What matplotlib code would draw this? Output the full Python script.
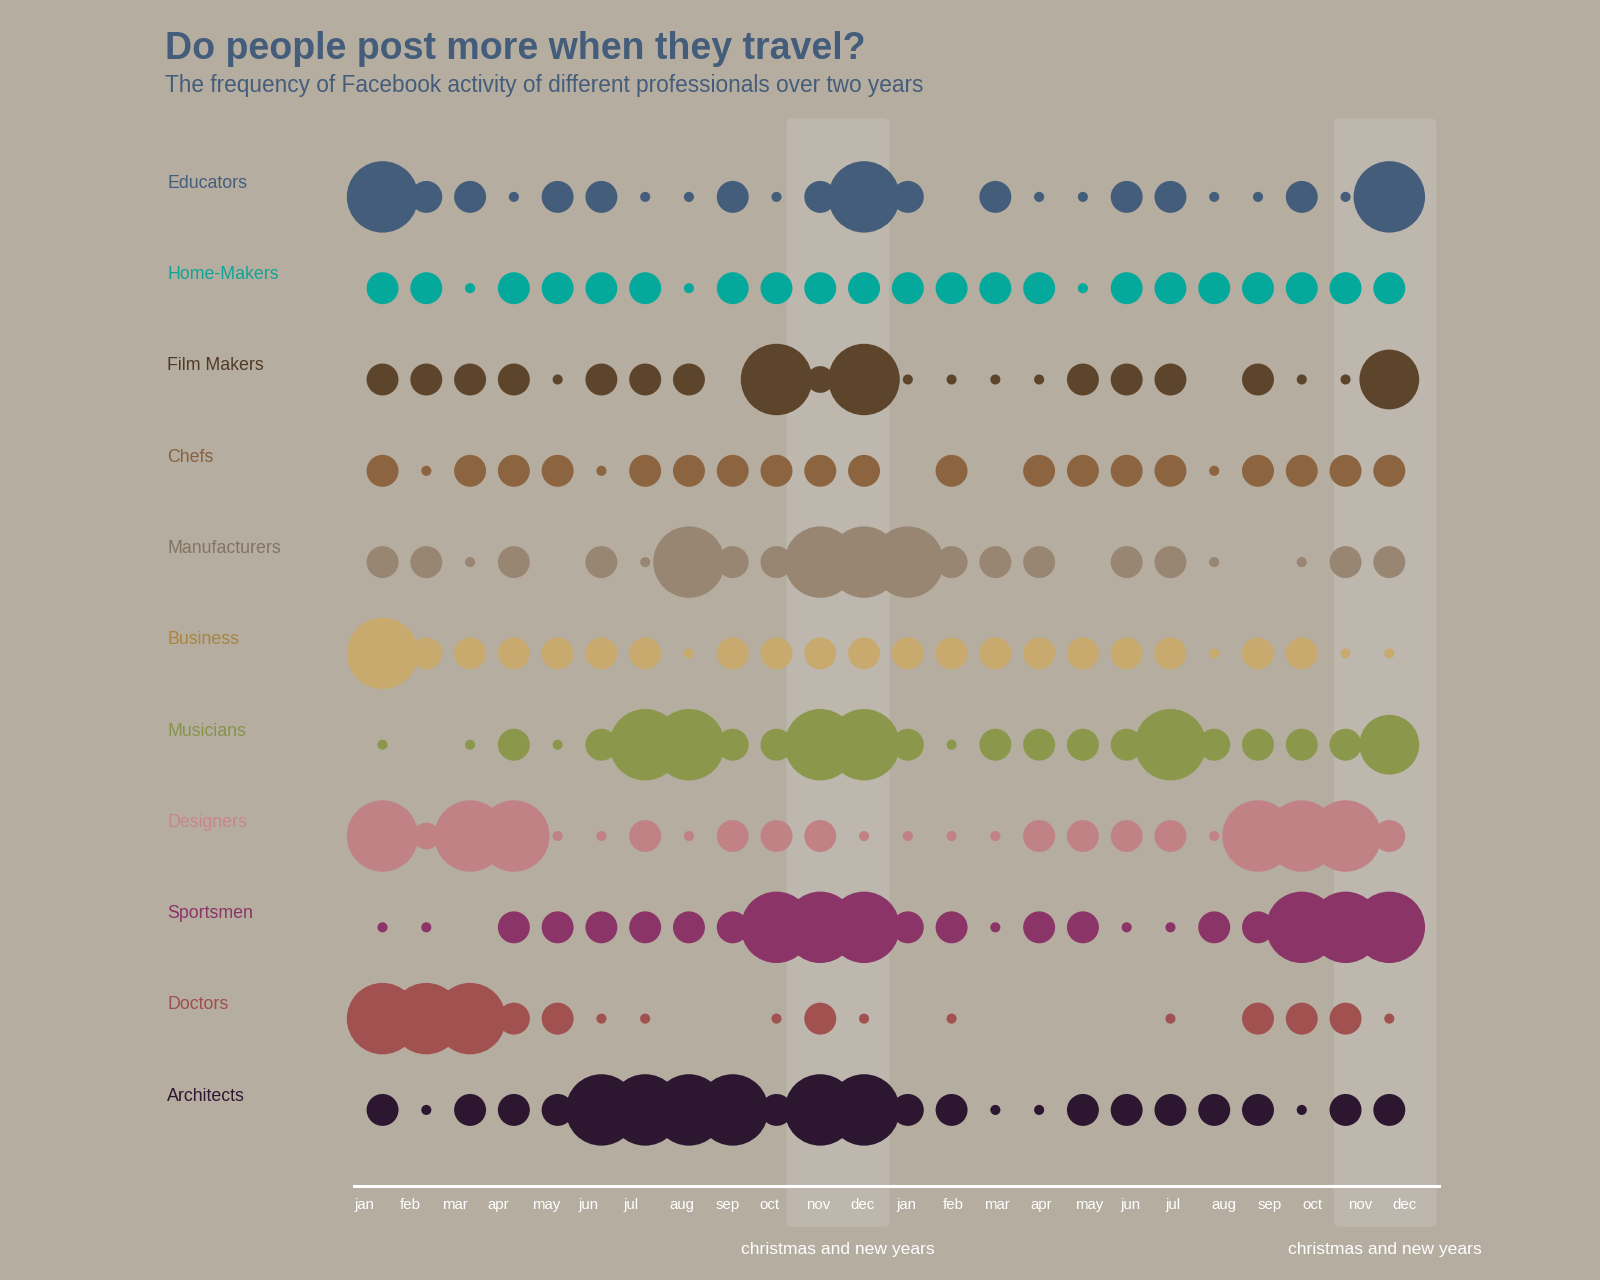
import numpy as np
import pandas as pd
import matplotlib
matplotlib.use("Agg")
import matplotlib.pyplot as plt
from matplotlib.patches import FancyBboxPatch
from matplotlib.transforms import blended_transform_factory

plt.rcParams['font.family'] = ['Liberation Sans', 'DejaVu Sans']

# --- data: activity per month over two years (24 months) ---
professions = ['Educators', 'Home-Makers', 'Film Makers', 'Chefs', 'Manufacturers',
               'Business', 'Musicians', 'Designers', 'Sportsmen', 'Doctors', 'Architects']

educators     = [100, 20, 20, 2, 20, 20, 2, 2, 20, 2, 20, 100, 20, 0, 20, 2, 2, 20, 20, 2, 2, 20, 2, 100]
home_makers   = [20, 20, 2, 20, 20, 20, 20, 2, 20, 20, 20, 20, 20, 20, 20, 20, 2, 20, 20, 20, 20, 20, 20, 20]
film_makers   = [20, 20, 20, 20, 2, 20, 20, 20, 0, 100, 14, 100, 2, 2, 2, 2, 20, 20, 20, 0, 20, 2, 2, 70]
chefs         = [20, 2, 20, 20, 20, 2, 20, 20, 20, 20, 20, 20, 0, 20, 0, 20, 20, 20, 20, 2, 20, 20, 20, 20]
manufacturers = [20, 20, 2, 20, 0, 20, 2, 100, 20, 20, 100, 100, 100, 20, 20, 20, 0, 20, 20, 2, 0, 2, 20, 20]
business      = [100, 20, 20, 20, 20, 20, 20, 2, 20, 20, 20, 20, 20, 20, 20, 20, 20, 20, 20, 2, 20, 20, 2, 2]
musicians     = [2, 0, 2, 20, 2, 20, 100, 100, 20, 20, 100, 100, 20, 2, 20, 20, 20, 20, 100, 20, 20, 20, 20, 70]
designers     = [100, 14, 100, 100, 2, 2, 20, 2, 20, 20, 20, 2, 2, 2, 2, 20, 20, 20, 20, 2, 100, 100, 100, 20]
sportsmen     = [2, 2, 0, 20, 20, 20, 20, 20, 20, 100, 100, 100, 20, 20, 2, 20, 20, 2, 2, 20, 20, 100, 100, 100]
doctors       = [100, 100, 100, 20, 20, 2, 2, 0, 0, 2, 20, 2, 0, 2, 0, 0, 0, 0, 2, 0, 20, 20, 20, 2]
architects    = [20, 2, 20, 20, 20, 100, 100, 100, 100, 20, 100, 100, 20, 20, 2, 2, 20, 20, 20, 20, 20, 2, 20, 20]

activity = [educators, home_makers, film_makers, chefs, manufacturers, business,
            musicians, designers, sportsmen, doctors, architects]

colors = ['#445d7b', '#05a99c', '#5d452c', '#8c6440', '#988673', '#c8aa6e',
          '#8b984b', '#c08285', '#8b3467', '#a05150', '#2d1730']
label_colors = ['#445d7b', '#0fa596', '#4f3b27', '#86603f', '#827464', '#a8853f',
                '#86944a', '#c8868b', '#8b3467', '#a04d50', '#2d1730']

month_names = ['jan', 'feb', 'mar', 'apr', 'may', 'jun',
               'jul', 'aug', 'sep', 'oct', 'nov', 'dec']
holiday_spans = [(9.23, 11.58), (21.73, 24.08)]
holiday_label = 'christmas and new years'

W, H = 1600, 1280
S = 1600 / 1568  # layout measured on a 1568-wide preview


def fx(px):
    return px * S / W


def fy(px):
    return 1 - px * S / H


# --- figure ---
bg = '#b5ada0'
fig = plt.figure(figsize=(16, 12.8), dpi=100, facecolor=bg)
ax = fig.add_axes([fx(347), fy(1162), fx(1410) - fx(347), fy(116) - fy(1162)])
ax.set_facecolor(bg)
ax.set_xlim(-0.65, 24.13)
ax.set_ylim(10.83, -0.86)

# holiday bands
for x0, x1 in holiday_spans:
    band = FancyBboxPatch((x0, -0.86), x1 - x0, 11.28 + 0.86,
                          boxstyle='round,pad=0,rounding_size=0.14',
                          mutation_aspect=0.48, facecolor='#bdb7ad',
                          edgecolor='none', clip_on=False, zorder=0)
    ax.add_patch(band)
    ax.text((x0 + x1) / 2, 11.53, holiday_label, color='white', fontsize=12.6,
            ha='center', va='center', clip_on=False)

# bubbles
months_idx = np.arange(24)
for row, (vals, col) in enumerate(zip(activity, colors)):
    vals = np.array(vals, dtype=float)
    mask = vals > 0
    radius_px = 3.5 * S * np.sqrt(vals[mask])
    sizes = (1.44 * radius_px) ** 2
    ax.scatter(months_idx[mask], np.full(mask.sum(), row), s=sizes, c=col,
               linewidths=0, zorder=2, clip_on=False)

# row labels
trans = blended_transform_factory(fig.transFigure, ax.transData)
for row, (name, lc) in enumerate(zip(professions, label_colors)):
    ax.text(fx(164), row - 0.15, name, transform=trans, color=lc,
            fontsize=12.8, ha='left', va='center')

# month axis (time scale, labels at month starts)
starts = pd.date_range('2013-01-01', periods=24, freq='MS')
days = (starts - starts[0]).days.values
tick_pos = -0.65 + days / 730 * 24.78
ax.set_xticks(tick_pos)
ax.set_xticklabels(month_names * 2, ha='left', color='white', fontsize=10.8)
ax.tick_params(axis='x', length=0, pad=9)
ax.set_yticks([])
for side in ['top', 'left', 'right']:
    ax.spines[side].set_visible(False)
ax.spines['bottom'].set_color('white')
ax.spines['bottom'].set_linewidth(2.2)
ax.spines['bottom'].set_zorder(3)

# titles
fig.text(fx(162), fy(48), 'Do people post more when they travel?',
         color='#445d7b', fontsize=27, fontweight='bold', ha='left', va='center')
fig.text(fx(162), fy(84),
         'The frequency of Facebook activity of different professionals over two years',
         color='#445d7b', fontsize=16.3, ha='left', va='center')

fig.savefig('out.png', dpi=100, facecolor=bg)
